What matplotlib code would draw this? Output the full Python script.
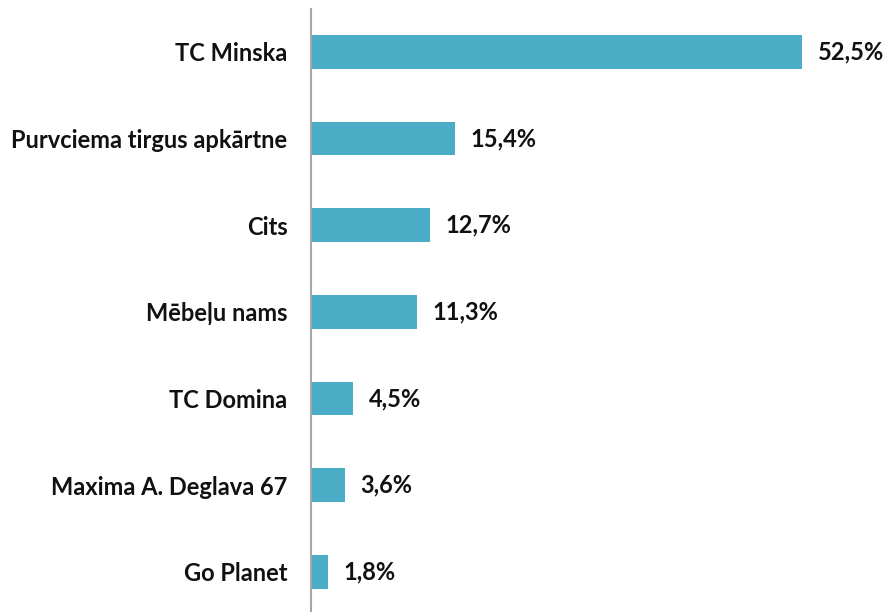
import matplotlib.pyplot as plt

# dati
categories = ['TC Minska', 'Purvciema tirgus apkārtne', 'Cits', 'Mēbeļu nams',
              'TC Domina', 'Maxima A. Deglava 67', 'Go Planet']
values = [52.5, 15.4, 12.7, 11.3, 4.5, 3.6, 1.8]
labels = ['52,5%', '15,4%', '12,7%', '11,3%', '4,5%', '3,6%', '1,8%']

plt.rcParams['font.family'] = ['Lato', 'DejaVu Sans']

fig = plt.figure(figsize=(8.86, 6.12), dpi=100)
ax = fig.add_axes([311 / 886, -0.005, 575 / 886, 0.991])

pos = list(range(len(categories)))
ax.barh(pos, values, height=0.39, color='#4BACC6')

for p, v, t in zip(pos, values, labels):
    ax.annotate(t, (v, p), xytext=(11.5, 0), textcoords='offset points',
                va='center', ha='left', fontsize=17, fontweight='bold', color='#111111')

ax.set_yticks(pos)
ax.set_yticklabels(categories, fontsize=17, fontweight='bold', color='#111111')
ax.tick_params(axis='y', length=0, pad=17)
ax.set_ylim(len(categories) - 0.5, -0.5)
ax.set_xlim(0, 575 / 9.35)
ax.set_xticks([])

for s in ['top', 'right', 'bottom']:
    ax.spines[s].set_visible(False)
ax.spines['left'].set_color('#a6a6a6')
ax.spines['left'].set_linewidth(1.5)

fig.savefig('out.png', dpi=100)
